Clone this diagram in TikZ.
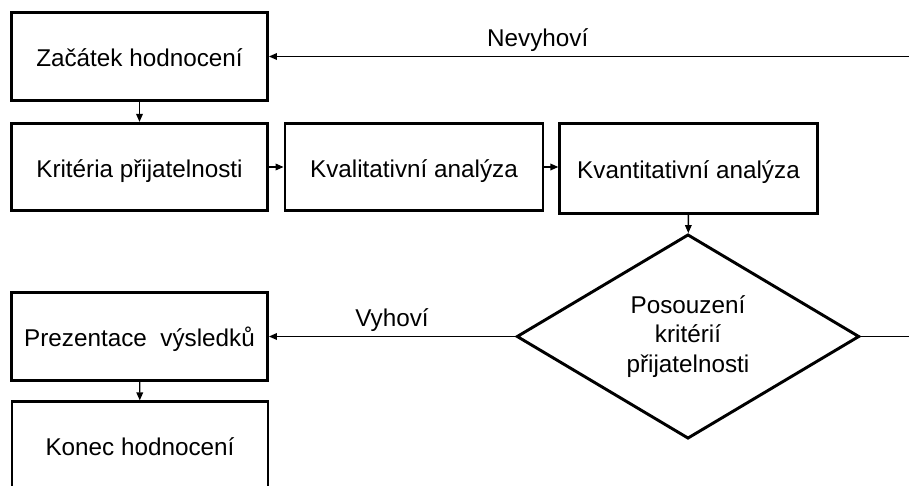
\documentclass[tikz,border=0pt]{standalone}
\usepackage{fontspec}
\setmainfont{Liberation Sans}
\usepackage{xcolor}
\usetikzlibrary{shapes.geometric,arrows.meta}

\begin{document}
\begin{tikzpicture}[x=0.75pt,y=-0.75pt,
                every node/.style={font=\fontsize{18.2pt}{22pt}\selectfont},
                box/.style={draw, line width=2.2pt, inner sep=0pt, text height=15pt, text depth=0pt, minimum width=192pt, minimum height=65.5pt},
                decide/.style={draw, diamond, line width=2.2pt, align=center, inner sep=0pt, minimum width=257pt, minimum height=152pt},
                arr/.style={-{Triangle[length=6pt,width=5pt]}, line width=1pt}]
                \useasboundingbox (0,0) rectangle (909,485);
                \clip (0,0) rectangle (909,485);
                \node [box] (zac) at (139.5,56.5) {Začátek hodnocení};
                \node [box] (krit) at (139.5,167) {Kritéria přijatelnosti};
                \node [box, minimum width=193.5pt] (kval) at (414,167) {Kvalitativní analýza};
                \node [box, minimum width=193pt, minimum height=67pt] (kvan) at (688.5,168.5) {Kvantitativní analýza};
                \node [decide] (posou) at (688,336.5) {Posouzení\\kritérií\\přijatelnosti};
                \node [box] (prez) at (139.5,336.5) {Prezentace\ \ výsledků};
                \node [box] (konec) at (140,445.5) {Konec hodnocení};
                \coordinate (nevR) at (909,56.5);
                \coordinate (vyhR) at (909,336.5);
                \draw [arr] (zac) -- (krit);
                \draw [arr] (krit) -- (kval);
                \draw [arr] (kval.east) -- (kval.east -| kvan.west);
                \draw [arr] (kvan) -- (posou);
                \draw [arr] (posou.west) -- node [above, pos=0.5] {Vyhoví} (prez.east);
                \draw [line width=1pt] (posou.east) -- (vyhR);
                \draw [arr] (nevR) -- node [above, pos=0.58] {Nevyhoví} (zac.east);
                \draw [arr] (prez) -- (konec);
            \end{tikzpicture}
\end{document}
